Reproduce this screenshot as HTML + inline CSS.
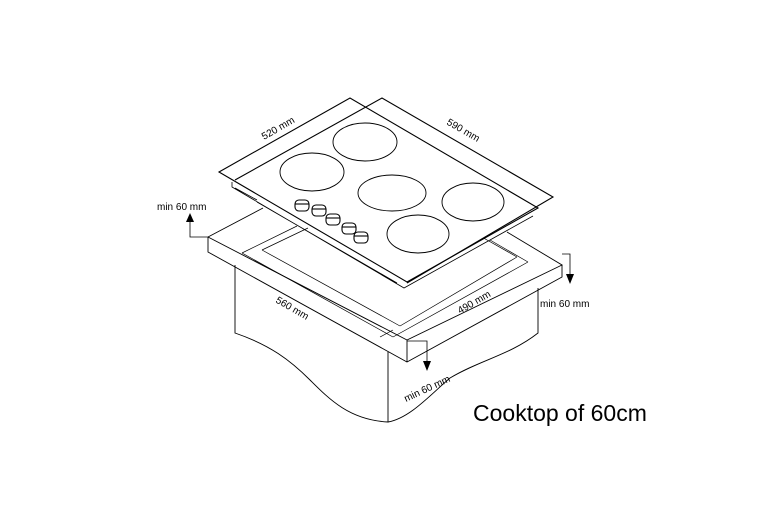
<!DOCTYPE html>
<html><head><style>body{margin:0;background:#fff}svg{display:block}</style></head><body>
<svg width="764" height="518" viewBox="0 0 764 518" xmlns="http://www.w3.org/2000/svg" font-family="Liberation Sans, sans-serif">
<g fill="none" stroke="#000" stroke-width="0.9">
<!-- cabinet body -->
<path d="M235,265 L235,333 C270,345 290,360 310,380 C330,400 350,420 388,422 L388,352" fill="#fff"/>
<path d="M388,422 C410,418 430,395 450,378 C480,360 510,355 538,333 L538,288"/>
<!-- countertop -->
<path d="M208,237 L263,208 M208,237 L407,340 L562,265 L507,232 M208,237 L208,252 L407,362 L562,277 L562,265 M407,340 L407,362" />
<!-- cutout lines -->
<path d="M242,253 L297,226 M262,250 L308,228 M242,253 L393,337 M393,337 L528,262 M262,250 L400,326 M400,326 L517,257 M528,262 L490,240 M517,257 L480,236 M380,337 L393,330" stroke-width="0.7"/>
<!-- cooktop underside -->
<path d="M232,182 L232,187 L404,288 L533,216 M257,202 L397,283 M235,188 L257,200" stroke-width="0.8"/>
<!-- glass -->
<path d="M219,172 L350,98 L538,208 L407,282 Z" stroke-width="1.1" fill="#fff"/>
<path d="M235,180 L382,98 L553,197 L407,283" stroke-width="1.1"/>
<!-- burners -->
<ellipse cx="365" cy="142" rx="32" ry="19"/>
<ellipse cx="312" cy="172" rx="32" ry="19"/>
<ellipse cx="392" cy="193" rx="34" ry="18"/>
<ellipse cx="473" cy="202" rx="31" ry="19"/>
<ellipse cx="418" cy="234" rx="31" ry="19"/>
<!-- knobs -->
<g stroke-width="1.1">
<rect x="295" y="200" width="14" height="11" rx="4"/><path d="M295,204 H309"/>
<rect x="312" y="205" width="14" height="11" rx="4"/><path d="M312,209 H326"/>
<rect x="326" y="214" width="14" height="11" rx="4"/><path d="M326,218 H340"/>
<rect x="342" y="223" width="14" height="11" rx="4"/><path d="M342,227 H356"/>
<rect x="354" y="232" width="14" height="11" rx="4"/><path d="M354,236 H368"/>
</g>
<!-- arrows -->
<path d="M208,237 L190,237 L190,222" stroke-width="0.8"/>
<path d="M562,254 L570,254 L570,275" stroke-width="0.8"/>
<path d="M407,341 L427,341 L427,362" stroke-width="0.8"/>
</g>
<g fill="#000">
<polygon points="186,222 194,222 190,213"/>
<polygon points="566,274 574,274 570,284"/>
<polygon points="423,361 431,361 427,371"/>
</g>
<g font-size="10" fill="#000">
<text x="157" y="210">min 60 mm</text>
<text x="540" y="307">min 60 mm</text>
<text transform="translate(406,402) rotate(-25)">min 60 mm</text>
<text transform="translate(264,140) rotate(-30)">520 mm</text>
<text transform="translate(446,124) rotate(30)">590 mm</text>
<text transform="translate(275,302) rotate(30)">560 mm</text>
<text transform="translate(460,314) rotate(-30)">490 mm</text>
</g>
<text x="473" y="421" font-size="23" fill="#000">Cooktop of 60cm</text>
</svg>
</body></html>
